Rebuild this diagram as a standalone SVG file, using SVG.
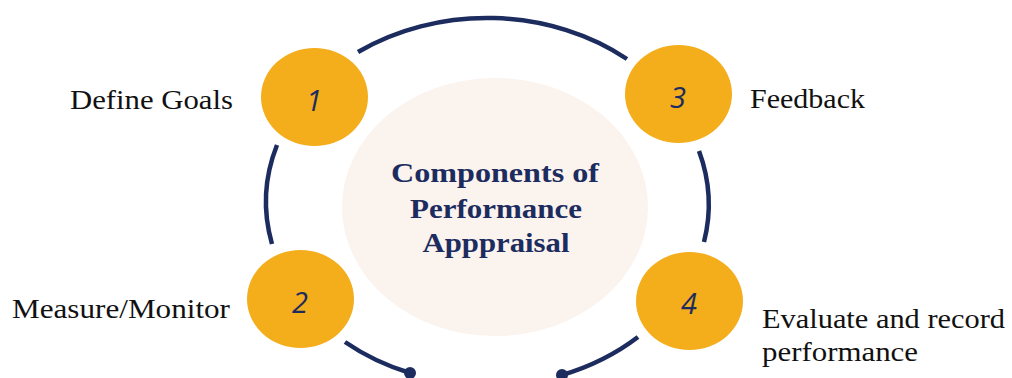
<svg xmlns="http://www.w3.org/2000/svg" width="1012" height="378" viewBox="0 0 1012 378">
<style>
.arc{fill:none;stroke:#1D2C5E;stroke-width:4.5}
.dot{fill:#1D2C5E}
.node{fill:#F4AD1B}
.num{font-family:'Open Sans',sans-serif;font-style:italic;font-size:29px;fill:#1D2C5E;text-anchor:middle}
.lbl{font-size:27px;fill:#111}
.title{font-weight:bold;font-size:28px;fill:#1D2C5E;text-anchor:middle}
</style>
<rect width="1012" height="378" fill="#fff"/>
<g id="connectors">
<path class="arc" d="M358,52 A222,183 0 0 1 627,59"/>
<path class="arc" d="M277,145 A222,183 0 0 0 272,244"/>
<path class="arc" d="M699,151 A222,183 0 0 1 704,242"/>
<path class="arc" d="M345,342 A222,183 0 0 0 410,373"/>
<circle class="dot" cx="410" cy="373" r="6"/>
<path class="arc" d="M638,337 A222,183 0 0 1 562,375"/>
<circle class="dot" cx="562" cy="375" r="6"/>
</g>
<g id="center" font-family="Liberation Serif, serif">
<ellipse cx="495" cy="207" rx="153" ry="129" fill="#FBF3EE"/>
<text class="title" x="495" y="182" textLength="208" lengthAdjust="spacingAndGlyphs">Components of</text>
<text class="title" x="496" y="218" textLength="172" lengthAdjust="spacingAndGlyphs">Performance</text>
<text class="title" x="496" y="252" textLength="147" lengthAdjust="spacingAndGlyphs">Apppraisal</text>
</g>
<g id="node1" font-family="Liberation Serif, serif">
<ellipse class="node" cx="314.5" cy="97" rx="53.5" ry="49"/>
<text class="num" x="314" y="111">1</text>
<text class="lbl" x="70" y="109" textLength="163" lengthAdjust="spacingAndGlyphs">Define Goals</text>
</g>
<g id="node2" font-family="Liberation Serif, serif">
<ellipse class="node" cx="300.5" cy="299" rx="53.5" ry="49"/>
<text class="num" x="300" y="313">2</text>
<text class="lbl" x="12" y="318" textLength="218" lengthAdjust="spacingAndGlyphs">Measure/Monitor</text>
</g>
<g id="node3" font-family="Liberation Serif, serif">
<ellipse class="node" cx="678.5" cy="94" rx="53.5" ry="49"/>
<text class="num" x="678" y="108">3</text>
<text class="lbl" x="750" y="108" textLength="115" lengthAdjust="spacingAndGlyphs">Feedback</text>
</g>
<g id="node4" font-family="Liberation Serif, serif">
<ellipse class="node" cx="689.5" cy="301" rx="53.5" ry="49"/>
<text class="num" x="689" y="314">4</text>
<text class="lbl" x="762" y="328" textLength="243" lengthAdjust="spacingAndGlyphs">Evaluate and record</text>
<text class="lbl" x="762" y="361" textLength="156" lengthAdjust="spacingAndGlyphs">performance</text>
</g>
</svg>
